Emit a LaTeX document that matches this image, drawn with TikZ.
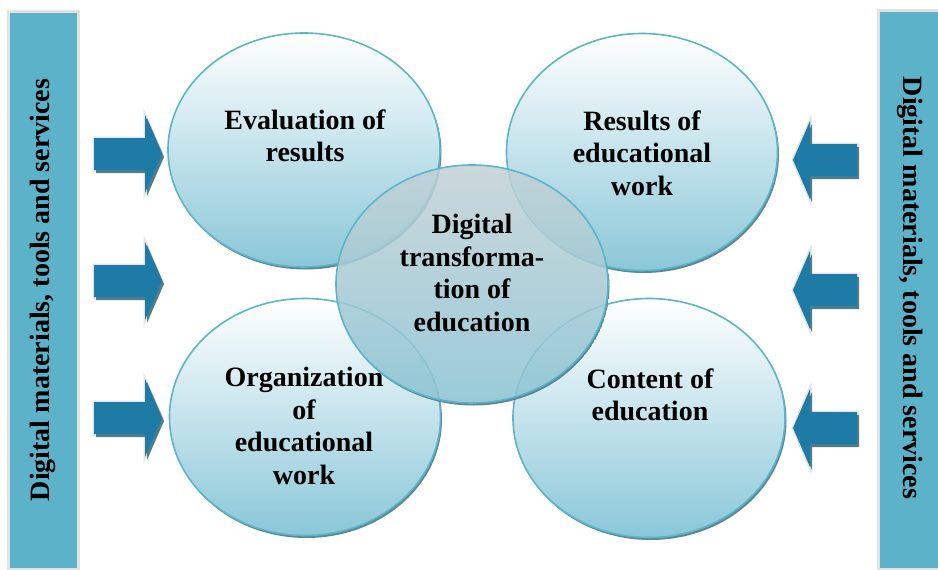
\documentclass[tikz,border=0pt]{standalone}
\usepackage{fontspec}
\setmainfont{Liberation Serif}
\usetikzlibrary{shapes.geometric,shadows}

\definecolor{barblue}{HTML}{5BB2C9}
\definecolor{barrim}{HTML}{E2E2E2}
\definecolor{arrblue}{HTML}{1E7BA6}
\definecolor{arrshade}{HTML}{4E7E8C}
\definecolor{arrrim}{HTML}{E4E4E4}
\definecolor{rimblue}{HTML}{5BB5CB}
\definecolor{bubtop}{HTML}{FFFFFF}
\definecolor{bubmid}{HTML}{D6EDF3}
\definecolor{bubbot}{HTML}{8AC7D8}
\definecolor{bubshade}{HTML}{5C8794}
\definecolor{coretop}{HTML}{C3D2D6}
\definecolor{corebot}{HTML}{8AC3D3}

\begin{document}
\begin{tikzpicture}[x=1pt,y=-1pt,
  txt/.style={font=\fontsize{28}{32.5}\selectfont\bfseries, align=center, inner sep=0pt},
  sidebar/.style={draw=barrim, fill=barblue, line width=3pt},
  bubble/.style={ellipse, draw=rimblue, line width=1.6pt, inner sep=0pt,
    top color=bubtop, middle color=bubmid, bottom color=bubbot,
    general shadow={fill=bubshade, shadow xshift=1.5pt, shadow yshift=-2.5pt}},
  core/.style={ellipse, draw=rimblue, line width=1.6pt, inner sep=0pt,
    fill opacity=0.86, top color=coretop, bottom color=corebot},
  % block arrow pointing right, origin at the middle of its tail
  rarrow/.pic={
    \draw[arrrim, line width=3pt, line join=miter]
      (0,-16) -- (51,-16) -- (51,-39) -- (68,0) -- (51,39) -- (51,16) -- (0,16) -- cycle;
    \fill[arrshade, shift={(2,3)}]
      (0,-16) -- (51,-16) -- (51,-39) -- (68,0) -- (51,39) -- (51,16) -- (0,16) -- cycle;
    \fill[arrblue]
      (0,-16) -- (51,-16) -- (51,-39) -- (68,0) -- (51,39) -- (51,16) -- (0,16) -- cycle;
  },
  % block arrow pointing left, origin at the middle of its tail
  larrow/.pic={
    \draw[arrrim, line width=3pt, line join=miter]
      (0,-16) -- (-47,-16) -- (-47,-39) -- (-64,0) -- (-47,39) -- (-47,16) -- (0,16) -- cycle;
    \fill[arrshade, shift={(2,3)}]
      (0,-16) -- (-47,-16) -- (-47,-39) -- (-64,0) -- (-47,39) -- (-47,16) -- (0,16) -- cycle;
    \fill[arrblue]
      (0,-16) -- (-47,-16) -- (-47,-39) -- (-64,0) -- (-47,39) -- (-47,16) -- (0,16) -- cycle;
  },
]
\useasboundingbox (0,0) rectangle (938,570);
\fill[white] (0,0) rectangle (938,570);

% side bars
\draw[sidebar] (8.5,11.5) rectangle (78.5,569);
\draw[sidebar] (878.5,10.5) rectangle (945,569);
\node[txt, rotate=90] (lbar) at (43,290) {Digital materials, tools and services};
\node[txt, rotate=-90] (rbar) at (910,288) {Digital materials, tools and services};

% arrows from the bars
\pic at (94,154) {rarrow};
\pic at (94,281) {rarrow};
\pic at (94,418) {rarrow};
\pic at (857,160) {larrow};
\pic at (857,290) {larrow};
\pic at (857,428) {larrow};

% outer bubbles
\node[bubble, minimum width=272pt, minimum height=234pt] (eval) at (304,150) {};
\node[bubble, minimum width=271pt, minimum height=237pt] (res) at (642,152) {};
\node[bubble, minimum width=271pt, minimum height=237pt] (org) at (305,417) {};
\node[bubble, minimum width=272pt, minimum height=239pt] (cont) at (649,418) {};

% shadow rim of the central bubble, kept outside it
\begin{scope}
  \clip (473.5,286.5) ellipse [x radius=136, y radius=119];
  \fill[bubshade, even odd rule]
    (473.5,286.5) ellipse [x radius=136, y radius=119]
    (472,284) ellipse [x radius=136, y radius=119];
\end{scope}
\node[core, minimum width=272pt, minimum height=238pt] (core) at (472,284) {};

% labels
\node[txt] (evalt) at (305,136) {Evaluation of\\results};
\node[txt] (rest) at (642,153) {Results of\\educational\\work};
\node[txt] (coret) at (472,273) {Digital\\transforma-\\tion of\\education};
\node[txt] (orgt) at (304,426) {Organization\\of\\educational\\work};
\node[txt] (contt) at (650,395) {Content of\\education};
\end{tikzpicture}
\end{document}
